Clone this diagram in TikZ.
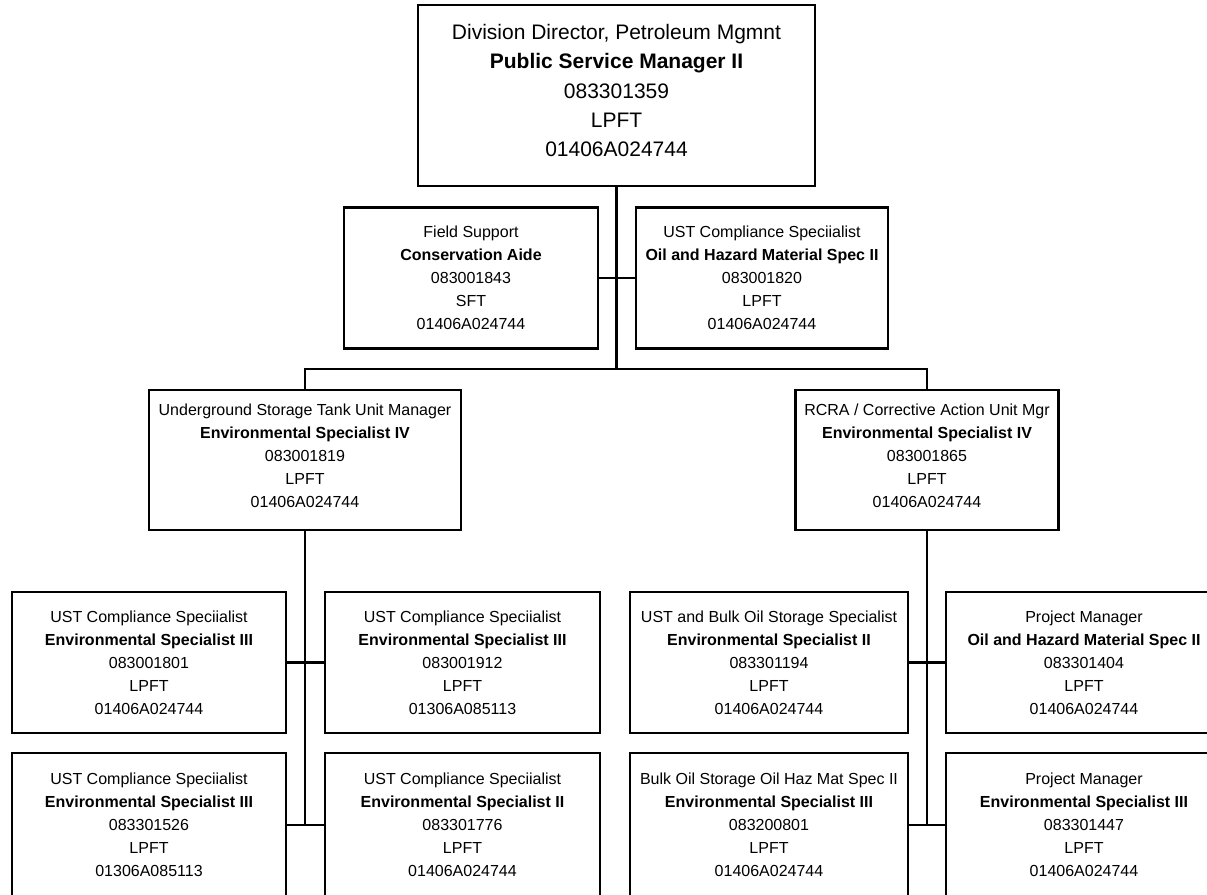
\documentclass[tikz,border=0pt]{standalone}
\usepackage{fontspec}
\setmainfont{Liberation Sans}
\usepackage{tikz}
\usetikzlibrary{calc,positioning}
\newcommand{\postinfo}[5]{#1\\\textbf{#2}\\#3\\#4\\#5}
\begin{document}
\begin{tikzpicture}[x=1pt,y=-1pt,
    post/.style={draw, line width=2.9pt, align=center, inner sep=0pt,
      minimum height=141pt, font=\fontsize{16}{23}\selectfont},
    lowpost/.style={post, minimum height=144pt},
    link/.style={line width=2.3pt}]
        % Page
        \clip (0,0) rectangle (1207,894);
        \fill[white] (0,0) rectangle (1207,894);
        % Director
        \node[post, minimum width=397pt, minimum height=181pt, text depth=10pt,
          font=\fontsize{21}{29.3}\selectfont] (dir) at (616.5,95.5)
          {\postinfo{Division Director, Petroleum Mgmnt}{Public Service Manager II}{083301359}{LPFT}{01406A024744}};
        % Staff level
        \node[post, minimum width=254pt] (field) at (471,278)
          {\postinfo{Field Support}{Conservation Aide}{083001843}{SFT}{01406A024744}};
        \node[post, minimum width=252pt] (ustc) at (762,278)
          {\postinfo{UST Compliance Speciialist}{Oil and Hazard Material Spec II}{083001820}{LPFT}{01406A024744}};
        % Unit managers
        \node[post, minimum width=312pt, minimum height=140pt, text depth=8pt] (ustmgr) at (305,460)
          {\postinfo{Underground Storage Tank Unit Manager}{Environmental Specialist IV}{083001819}{LPFT}{01406A024744}};
        \node[post, minimum width=263pt, minimum height=140pt, text depth=8pt] (rcramgr) at (927,460)
          {\postinfo{RCRA / Corrective Action Unit Mgr}{Environmental Specialist IV}{083001865}{LPFT}{01406A024744}};
        % UST unit
        \node[post, minimum width=274pt] (ust1) at (149,662.5)
          {\postinfo{UST Compliance Speciialist}{Environmental Specialist III}{083001801}{LPFT}{01406A024744}};
        \node[post, minimum width=275pt] (ust2) at (462.5,662.5)
          {\postinfo{UST Compliance Speciialist}{Environmental Specialist III}{083001912}{LPFT}{01306A085113}};
        \node[lowpost, minimum width=274pt] (ust3) at (149,825)
          {\postinfo{UST Compliance Speciialist}{Environmental Specialist III}{083301526}{LPFT}{01306A085113}};
        \node[lowpost, minimum width=275pt] (ust4) at (462.5,825)
          {\postinfo{UST Compliance Speciialist}{Environmental Specialist II}{083301776}{LPFT}{01406A024744}};
        % RCRA unit
        \node[post, minimum width=278pt] (rcra1) at (769,662.5)
          {\postinfo{UST and Bulk Oil Storage Specialist}{Environmental Specialist II}{083301194}{LPFT}{01406A024744}};
        \node[post, minimum width=276pt] (rcra2) at (1084,662.5)
          {\postinfo{Project Manager}{Oil and Hazard Material Spec II}{083301404}{LPFT}{01406A024744}};
        \node[lowpost, minimum width=278pt] (rcra3) at (769,825)
          {\postinfo{Bulk Oil Storage Oil Haz Mat Spec II}{Environmental Specialist III}{083200801}{LPFT}{01406A024744}};
        \node[lowpost, minimum width=276pt] (rcra4) at (1084,825)
          {\postinfo{Project Manager}{Environmental Specialist III}{083301447}{LPFT}{01406A024744}};
        % Connectors
        \coordinate (hub) at (616.5,369);
        \draw[link] (dir.south) -- (hub);
        \draw[link] (field.east) -- (ustc.west);
        \draw[link] (ustmgr.north) |- (hub) -| (rcramgr.north);
        \draw[link] (ustmgr.south) -- (ustmgr.south |- ust3.east);
        \draw[link] (ust1.east) -- (ust2.west);
        \draw[link] (ust3.east) -- (ust4.west);
        \draw[link] (rcramgr.south) -- (rcramgr.south |- rcra3.east);
        \draw[link] (rcra1.east) -- (rcra2.west);
        \draw[link] (rcra3.east) -- (rcra4.west);
      \end{tikzpicture}
\end{document}
